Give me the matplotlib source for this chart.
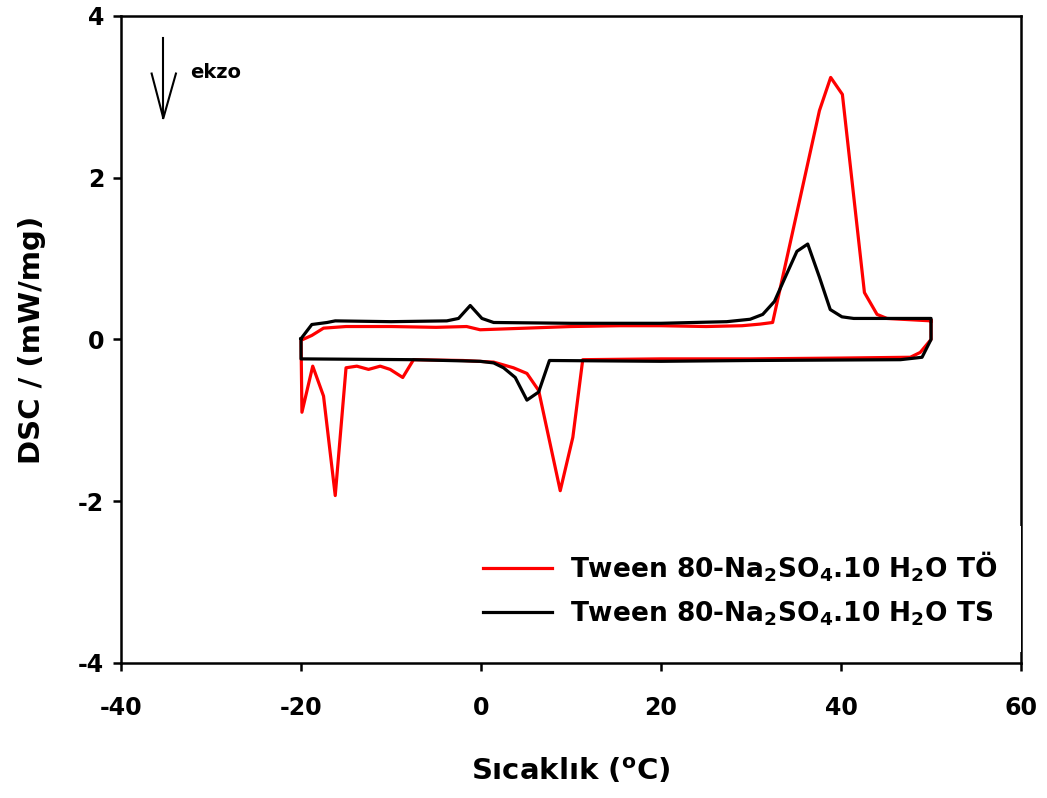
import numpy as np
import matplotlib
matplotlib.use('Agg')
import matplotlib.pyplot as plt

plt.rcParams['font.family'] = 'DejaVu Sans'
plt.rcParams['font.weight'] = 'bold'
plt.rcParams['mathtext.fontset'] = 'dejavusans'
plt.rcParams['mathtext.default'] = 'bf'
plt.rcParams['axes.unicode_minus'] = False

# Tween 80-Na2SO4.10 H2O TÖ (red): cooling 50 -> -20, then heating -20 -> 50
to_T = [50.0, 50.0, 48.8, 47.7, 40.0, 30.0, 20.0, 11.3, 10.2, 8.8, 6.4, 5.1, 3.6, 1.4,
        -2.0, -7.5, -8.7, -10.1, -11.2, -12.5, -13.8, -15.0, -16.2, -17.5, -18.7, -19.9,
        -20.0, -18.8, -17.5, -15.0, -10.0, -5.0, -1.6, -0.1, 5.0, 10.0, 15.4, 20.0,
        25.0, 29.0, 31.0, 32.4, 37.6, 38.85, 40.15, 42.6, 44.0, 45.1, 50.0]
to_dsc = [0.23, 0.0, -0.16, -0.22, -0.23, -0.24, -0.24, -0.25, -1.21, -1.87, -0.63, -0.42, -0.35, -0.28,
          -0.26, -0.25, -0.47, -0.37, -0.33, -0.37, -0.33, -0.35, -1.93, -0.70, -0.33, -0.90,
          -0.01, 0.05, 0.14, 0.16, 0.16, 0.15, 0.16, 0.12, 0.14, 0.16, 0.17, 0.17,
          0.16, 0.17, 0.19, 0.21, 2.83, 3.24, 3.03, 0.58, 0.31, 0.26, 0.23]

# Tween 80-Na2SO4.10 H2O TS (black): heating -20 -> 50, then cooling 50 -> -20
ts_T = [-20.0, -18.8, -17.1, -16.2, -10.0, -3.8, -2.5, -1.2, 0.1, 1.4, 10.0, 20.0,
        27.3, 29.9, 31.3, 32.6, 33.8, 35.1, 36.3, 37.6, 38.8, 40.1, 41.4, 50.0,
        50.0, 49.0, 46.6, 30.0, 20.0, 7.6, 6.4, 5.1, 3.8, 2.5, 1.4, -0.1, -7.5, -20.0, -20.0]
ts_dsc = [0.01, 0.185, 0.21, 0.23, 0.22, 0.23, 0.26, 0.42, 0.26, 0.21, 0.20, 0.20,
          0.22, 0.25, 0.31, 0.47, 0.77, 1.09, 1.18, 0.77, 0.37, 0.28, 0.26, 0.26,
          0.0, -0.22, -0.25, -0.26, -0.27, -0.26, -0.65, -0.75, -0.47, -0.35, -0.29, -0.27, -0.25, -0.24, 0.01]

labels = [r'Tween 80-Na$_2$SO$_4$.10 H$_2$O TÖ', r'Tween 80-Na$_2$SO$_4$.10 H$_2$O TS']

fig = plt.figure(figsize=(10.47, 7.98), dpi=100)
ax = fig.add_axes([0.1156, 0.1692, 0.8596, 0.8108])

ax.plot(to_T, to_dsc, color='#ff0000', lw=2.3, label=labels[0], zorder=3)
ax.plot(ts_T, ts_dsc, color='black', lw=2.3, label=labels[1], zorder=3)

ax.set_xlim(-40, 60)
ax.set_ylim(-4, 4)
ax.set_xticks([-40, -20, 0, 20, 40, 60])
ax.set_yticks([-4, -2, 0, 2, 4])
ax.tick_params(axis='both', which='both', direction='out', length=6, width=1.8,
               labelsize=17, top=False, right=False)
ax.tick_params(axis='x', pad=18)
ax.tick_params(axis='y', pad=6)
for s in ax.spines.values():
    s.set_linewidth(1.8)

ax.set_xlabel(r'Sıcaklık ($\mathregular{^o}$C)', fontsize=21, fontweight='bold', labelpad=26)
ax.set_ylabel('DSC / (mW/mg)', fontsize=21, fontweight='bold', labelpad=23)

# exo arrow
ax.plot([0.047, 0.047], [0.966, 0.842], color='black', lw=1.5, transform=ax.transAxes, clip_on=False)
ax.plot([0.034, 0.047, 0.061], [0.911, 0.842, 0.911], color='black', lw=1.5, transform=ax.transAxes)
ax.text(0.077, 0.913, 'ekzo', fontsize=14, fontweight='bold', va='center', ha='left',
        transform=ax.transAxes)

leg = ax.legend(loc='lower right', bbox_to_anchor=(1.0, 0.017), borderaxespad=0,
                fontsize=19, frameon=True, fancybox=False, framealpha=1,
                handlelength=2.6, handletextpad=0.7, labelspacing=0.6, borderpad=0.9)
leg.get_frame().set_edgecolor('none')
leg.get_frame().set_facecolor('white')
for h in leg.get_lines():
    h.set_linewidth(2.3)

fig.savefig('out.png', dpi=100)
